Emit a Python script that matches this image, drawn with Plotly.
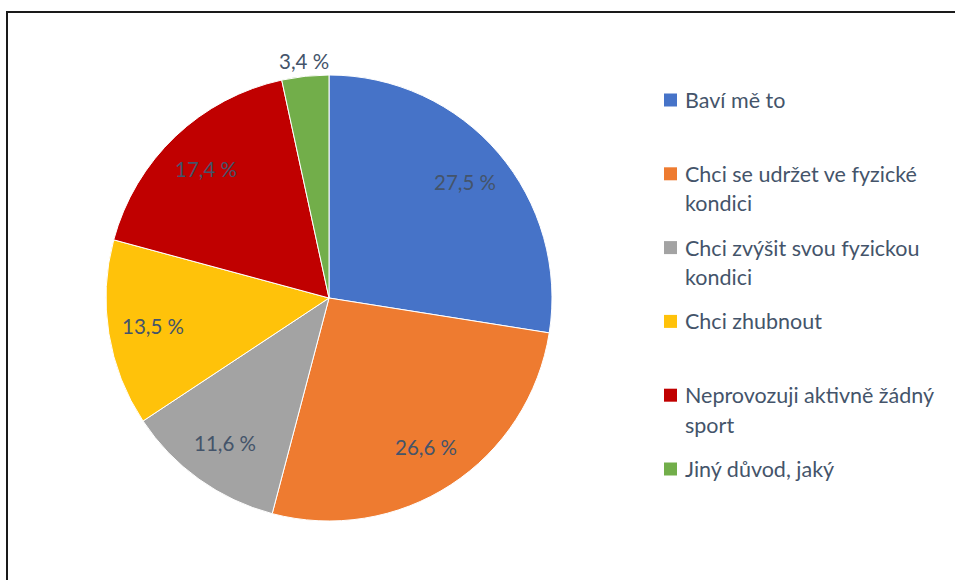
import math
import plotly.graph_objects as go

# Survey answers: reasons for doing sport
categories = [
    "Baví mě to",
    "Chci se udržet ve fyzické kondici",
    "Chci zvýšit svou fyzickou kondici",
    "Chci zhubnout",
    "Neprovozuji aktivně žádný sport",
    "Jiný důvod, jaký",
]
# legend text split onto lines
legend_lines = [
    ["Baví mě to"],
    ["Chci se udržet ve fyzické", "kondici"],
    ["Chci zvýšit svou fyzickou", "kondici"],
    ["Chci zhubnout"],
    ["Neprovozuji aktivně žádný", "sport"],
    ["Jiný důvod, jaký"],
]
shares = [27.5, 26.6, 11.6, 13.5, 17.4, 3.4]
colors = ["#4673c8", "#ee7b30", "#a3a3a3", "#ffc20a", "#c00000", "#72ae4a"]

W, H = 955, 580
FONT = "Lato"
TXT = "#44546a"

# pie geometry in pixels
cx, cy, R = 329, 298, 223

fig = go.Figure(
    go.Pie(
        labels=categories,
        values=shares,
        sort=False,
        direction="clockwise",
        rotation=0,
        textinfo="none",
        hoverinfo="label+percent",
        marker=dict(colors=colors, line=dict(color="white", width=1)),
        domain=dict(x=[(cx - R) / W, (cx + R) / W], y=[(H - cy - R) / H, (H - cy + R) / H]),
        showlegend=False,
    )
)

def fmt(v):
    return f"{v:.1f}".replace(".", ",") + " %"

# value labels placed along each slice's mid-angle
total = sum(shares)
cum = 0.0
annotations = []
for v in shares:
    mid = (cum + v / 2) / total * 2 * math.pi
    cum += v
    rr = 0.8 * R if v / total > 0.05 else 1.07 * R
    px = cx + rr * math.sin(mid)
    py = cy - rr * math.cos(mid)
    annotations.append(dict(
        x=px / W, y=(H - py) / H, xref="paper", yref="paper",
        text=fmt(v), showarrow=False, xanchor="center", yanchor="middle",
        font=dict(family=FONT, size=20.5, color=TXT),
    ))

shapes = []
# legend entries
leg_top, leg_step, line_h = 100, 73.8, 29.5
for i, lines in enumerate(legend_lines):
    y0 = leg_top + i * leg_step
    shapes.append(dict(
        type="rect", xref="paper", yref="paper",
        x0=664 / W, x1=677 / W, y0=(H - y0 - 6.5) / H, y1=(H - y0 + 6.5) / H,
        fillcolor=colors[i], line=dict(width=0),
    ))
    for j, ln in enumerate(lines):
        yy = y0 + j * line_h
        annotations.append(dict(
            x=683 / W, y=(H - yy) / H, xref="paper", yref="paper",
            text=ln, showarrow=False, xanchor="left", yanchor="middle",
            font=dict(family=FONT, size=21.5, color=TXT),
        ))

# chart frame (left and top edges)
shapes.append(dict(type="line", xref="paper", yref="paper",
                   x0=7 / W, x1=7 / W, y0=0, y1=(H - 12) / H,
                   line=dict(color="#1a1a1a", width=2)))
shapes.append(dict(type="line", xref="paper", yref="paper",
                   x0=6 / W, x1=1, y0=(H - 12) / H, y1=(H - 12) / H,
                   line=dict(color="#1a1a1a", width=2)))

fig.update_layout(
    width=W, height=H,
    margin=dict(l=0, r=0, t=0, b=0),
    paper_bgcolor="white",
    plot_bgcolor="white",
    annotations=annotations,
    shapes=shapes,
)

fig.write_html("out.html")
